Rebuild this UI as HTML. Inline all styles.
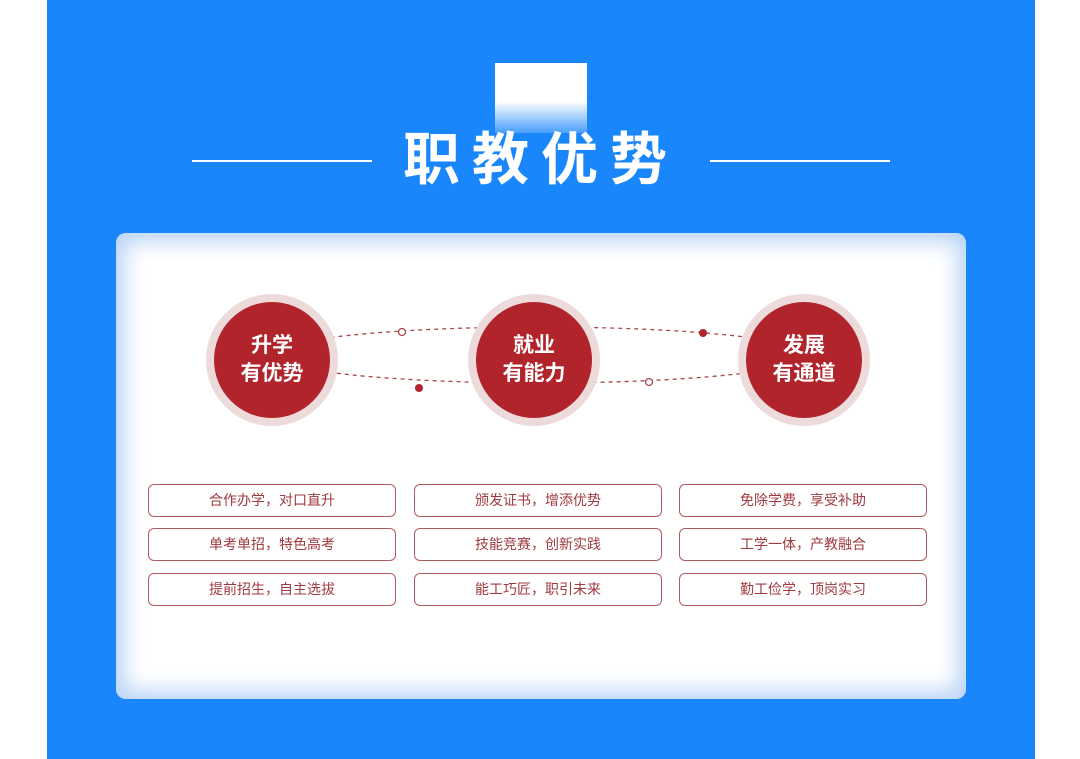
<!DOCTYPE html>
<html><head><meta charset="utf-8"><style>
html,body{margin:0;padding:0;background:#fff;width:1080px;height:759px;overflow:hidden;position:relative;font-family:"Liberation Sans","Noto Sans CJK SC",sans-serif}
.bg{position:absolute;left:47px;top:0;width:988px;height:759px;background:#1a86fb}
.sq{position:absolute;left:495px;top:63px;width:92px;height:70px;background:linear-gradient(#fff 0,#fff 55%,rgba(255,255,255,.2) 100%)}
.ln{position:absolute;top:160px;height:2px;background:#fff;width:180px}
.title{position:absolute;left:385px;top:128px;width:300px;text-align:center;color:#fff;font-size:57px;font-weight:bold;letter-spacing:12px;padding-left:12px;box-sizing:border-box;line-height:64px}
.card{position:absolute;left:116px;top:233px;width:850px;height:466px;border-radius:10px;background:#fff;box-shadow:inset 0 0 22px 8px #b7d3f6}
.c{position:absolute;width:132px;height:132px;border-radius:50%;background:#eddada}
.c div{position:absolute;left:8px;top:8px;width:116px;height:116px;border-radius:50%;background:#b1242b;color:#fff;font-weight:bold;font-size:21px;line-height:28px;display:flex;align-items:center;justify-content:center;text-align:center}
.b{position:absolute;width:246px;height:31px;border:1.5px solid #b35a5f;border-radius:6px;color:#a03a3f;font-size:14px;text-align:center;line-height:31px;background:#fff}
</style></head><body>
<div class="bg"></div>
<div class="sq"></div>
<div class="ln" style="left:192px"></div>
<div class="ln" style="left:710px"></div>
<div class="title">职教优势</div>
<div class="card"></div>
<svg style="position:absolute;left:0;top:0" width="1080" height="759">
<ellipse cx="540" cy="355" rx="268" ry="28" fill="none" stroke="#a8474c" stroke-width="1.3" stroke-dasharray="4,4"/>
<circle cx="402" cy="332" r="3.5" fill="#fff" stroke="#a8474c" stroke-width="1.3"/>
<circle cx="649" cy="382" r="3.5" fill="#fff" stroke="#a8474c" stroke-width="1.3"/>
<circle cx="419" cy="388" r="4" fill="#b1242b"/>
<circle cx="703" cy="333" r="4" fill="#b1242b"/>
</svg>
<div class="c" style="left:206px;top:294px"><div>升学<br>有优势</div></div>
<div class="c" style="left:468px;top:294px"><div>就业<br>有能力</div></div>
<div class="c" style="left:738px;top:294px"><div>发展<br>有通道</div></div>
<div class="b" style="left:148px;top:484px">合作办学，对口直升</div>
<div class="b" style="left:148px;top:528px">单考单招，特色高考</div>
<div class="b" style="left:148px;top:573px">提前招生，自主选拔</div>
<div class="b" style="left:414px;top:484px">颁发证书，增添优势</div>
<div class="b" style="left:414px;top:528px">技能竞赛，创新实践</div>
<div class="b" style="left:414px;top:573px">能工巧匠，职引未来</div>
<div class="b" style="left:679px;top:484px">免除学费，享受补助</div>
<div class="b" style="left:679px;top:528px">工学一体，产教融合</div>
<div class="b" style="left:679px;top:573px">勤工俭学，顶岗实习</div>
</body></html>
